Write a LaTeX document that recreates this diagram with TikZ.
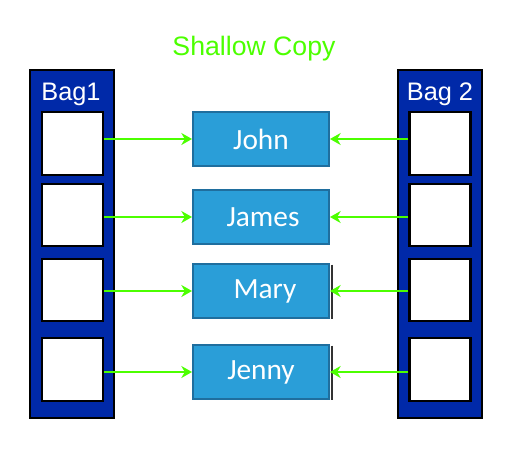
\documentclass[tikz,border=0pt]{standalone}
\usepackage{fontspec}
\setmainfont{Liberation Sans}
\newfontfamily\namefont{Carlito}
\usetikzlibrary{arrows.meta}

\definecolor{bagblue}{HTML}{0029A8}
\definecolor{namefill}{HTML}{2A9ED8}
\definecolor{nameedge}{HTML}{1F6E9E}
\definecolor{copygreen}{HTML}{4CFF00}

\begin{document}
\begin{tikzpicture}[x=0.75pt,y=-0.75pt,
  bag/.style={draw=black,fill=bagblue,line width=1.5pt,minimum width=63pt,minimum height=261pt,inner sep=0pt},
  cell/.style={draw=black,fill=white,line width=1.6pt,minimum width=45.75pt,minimum height=47pt,inner sep=0pt},
  person/.style={draw=nameedge,fill=namefill,line width=1.5pt,minimum width=102pt,minimum height=40pt,inner sep=0pt,
    text=white,font=\namefont\fontsize{22pt}{22pt}\selectfont},
  baglabel/.style={text=white,font=\fontsize{19pt}{19pt}\selectfont,inner sep=0pt},
  ptr/.style={draw=copygreen,line width=1.3pt,-{Stealth[length=8pt,width=9pt]}}]
  \useasboundingbox (0,0) rectangle (514,465);

  % title
  \node[text=copygreen,font=\fontsize{20pt}{20pt}\selectfont] (title) at (254,49) {Shallow Copy};

  % the two bags
  \node[bag] (bag1) at (72,244) {};
  \node[bag] (bag2) at (440,244) {};
  \node[baglabel] (bag1label) at (71,94) {Bag1};
  \node[baglabel] (bag2label) at (440,94) {Bag 2};

  % shared objects
  \node[person] (john)  at (261,139) {John};
  \node[person] (james) at (261,217) {\hspace*{3pt}James};
  \node[person] (mary)  at (261,291) {\hspace*{6pt}Mary};
  \node[person] (jenny) at (261,372) {Jenny};
  \draw[black!80,line width=1pt] ([xshift=1.5pt,yshift=-1pt]mary.north east) -- ([xshift=1.5pt]mary.south east);
  \draw[black!80,line width=1pt] ([xshift=1.5pt,yshift=-1pt]jenny.north east) -- ([xshift=1.5pt]jenny.south east);

  % slots and pointers
  \foreach \i/\y/\who in {1/143.5/john,2/215/james,3/290/mary,4/369.5/jenny}{
    \node[cell] (left\i)  at (72.5,\y) {};
    \node[cell] (right\i) at (440,\y) {};
    \draw[ptr] (left\i.east |- \who.west) -- (\who.west);
    \draw[ptr] (right\i.west |- \who.east) -- (\who.east);
  }
\end{tikzpicture}
\end{document}
